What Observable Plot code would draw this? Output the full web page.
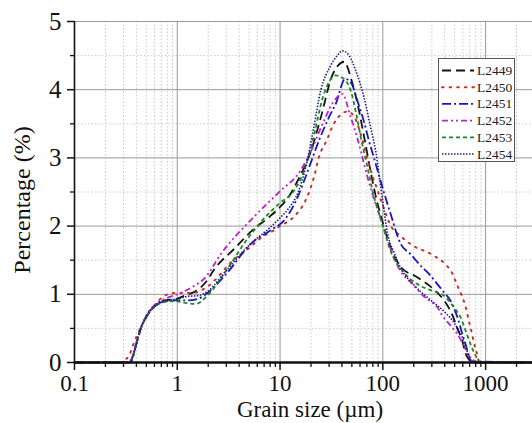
<!DOCTYPE html>
<html>
<head>
<meta charset="utf-8">
<script src="https://cdn.jsdelivr.net/npm/d3@7"></script>
<script src="https://cdn.jsdelivr.net/npm/@observablehq/plot@0.6"></script>
<style>
  html, body { margin: 0; padding: 0; background: #fff; }
  #chart { width: 532px; height: 423px; overflow: hidden; }
</style>
</head>
<body>
<div id="chart"></div>
<script>
// ---- data ----
const seriesNames = ["L2449", "L2450", "L2451", "L2452", "L2453", "L2454"];

const size2449 = [0.1, 0.34, 0.36, 0.4, 0.44, 0.51, 0.62, 0.77, 0.97, 1.17, 1.57, 1.9, 2.3, 3.6, 5.4, 7.8, 10, 12, 15, 20, 25, 32, 37, 42, 50, 57, 65, 75, 85, 100, 120, 150, 216, 314, 407, 480, 530, 593, 640, 700, 720, 2860];
const pct2449  = [0, 0, 0.05, 0.27, 0.49, 0.69, 0.84, 0.91, 0.93, 0.98, 1.06, 1.18, 1.37, 1.67, 1.94, 2.13, 2.28, 2.42, 2.68, 3.1, 3.6, 4.2, 4.36, 4.41, 4.12, 3.78, 3.35, 2.85, 2.45, 2.05, 1.67, 1.40, 1.25, 1.07, 0.88, 0.68, 0.5, 0.32, 0.13, 0.03, 0, 0];

const size2450 = [0.1, 0.29, 0.31, 0.34, 0.37, 0.41, 0.46, 0.53, 0.62, 0.75, 0.97, 1.41, 2.0, 3.5, 5, 7, 8.75, 10, 13.7, 18, 21.4, 23.9, 28.9, 32.3, 37.5, 45, 52, 58.6, 65, 75, 90, 100, 120, 150, 167, 208, 251, 326, 407, 480, 530, 579, 638, 690, 730, 767, 828, 870, 2860];
const pct2450  = [0, 0, 0.04, 0.1, 0.25, 0.41, 0.57, 0.74, 0.86, 0.98, 1.02, 1.02, 1.12, 1.5, 1.68, 1.86, 1.94, 2.0, 2.14, 2.4, 2.72, 3.01, 3.28, 3.46, 3.61, 3.68, 3.62, 3.43, 3.2, 2.85, 2.5, 2.3, 2.0, 1.85, 1.79, 1.69, 1.64, 1.55, 1.44, 1.29, 1.13, 1.0, 0.82, 0.6, 0.45, 0.3, 0.12, 0, 0];

const size2451 = [0.1, 0.35, 0.4, 0.44, 0.51, 0.62, 0.77, 0.97, 1.26, 1.57, 1.9, 3, 5.2, 8.1, 10.9, 14.8, 18, 24, 30, 35, 43, 50, 56.5, 65, 73, 82, 100, 119, 149, 186, 233, 281, 339, 393, 450, 491, 549, 593, 638, 687, 720, 2860];
const pct2451  = [0, 0, 0.27, 0.49, 0.69, 0.84, 0.9, 0.91, 0.91, 0.93, 1.0, 1.3, 1.74, 1.94, 2.08, 2.42, 2.75, 3.26, 3.6, 3.8, 4.16, 4.08, 3.84, 3.55, 3.26, 3.0, 2.55, 2.18, 1.74, 1.59, 1.42, 1.3, 1.15, 1.03, 0.92, 0.8, 0.6, 0.42, 0.27, 0.1, 0.02, 0];

const size2452 = [0.1, 0.34, 0.36, 0.4, 0.45, 0.5, 0.6, 0.8, 1.0, 1.41, 1.86, 2.65, 5.36, 9.8, 15.9, 20, 26.8, 33, 40.4, 48.6, 55, 60.8, 70, 80, 100, 120, 150, 186, 270, 303, 339, 378, 456, 530, 614, 687, 768, 800, 2860];
const pct2452  = [0, 0, 0.05, 0.3, 0.52, 0.69, 0.84, 0.95, 1.0, 1.11, 1.24, 1.59, 2.11, 2.5, 2.82, 3.1, 3.55, 3.82, 3.94, 3.6, 3.35, 3.11, 2.75, 2.45, 2.02, 1.65, 1.33, 1.18, 0.93, 0.88, 0.81, 0.69, 0.54, 0.42, 0.25, 0.1, 0.03, 0, 0];

const size2453 = [0.1, 0.34, 0.36, 0.4, 0.44, 0.51, 0.62, 0.77, 0.97, 1.13, 1.52, 1.9, 3, 4.8, 6.5, 9.8, 13.7, 17, 20, 26.8, 34.7, 40, 48.6, 55, 62, 70, 80, 100, 120, 160, 216, 292, 365, 393, 491, 571, 638, 713, 798, 850, 870, 2860];
const pct2453  = [0, 0, 0.05, 0.27, 0.49, 0.69, 0.83, 0.89, 0.9, 0.88, 0.86, 0.96, 1.35, 1.81, 2.06, 2.33, 2.52, 2.8, 3.15, 3.94, 4.21, 4.18, 3.99, 3.65, 3.25, 2.9, 2.5, 2.0, 1.62, 1.32, 1.15, 1.06, 1.01, 0.98, 0.81, 0.66, 0.47, 0.27, 0.1, 0.03, 0, 0];

const size2454 = [0.1, 0.34, 0.36, 0.4, 0.44, 0.51, 0.62, 0.77, 1.0, 1.26, 1.6, 2, 3, 5, 8, 10, 12, 15, 18, 21, 24.9, 31, 36, 40.4, 47, 54.5, 65.5, 76, 85, 100, 111, 130, 150, 200, 250, 300, 400, 500, 600, 650, 700, 750, 2860];
const pct2454  = [0, 0, 0.05, 0.28, 0.5, 0.7, 0.85, 0.91, 0.93, 0.97, 0.98, 1.05, 1.35, 1.72, 1.98, 2.12, 2.25, 2.5, 2.9, 3.4, 3.99, 4.35, 4.5, 4.57, 4.5, 4.28, 3.89, 3.45, 3.11, 2.35, 1.9, 1.6, 1.38, 1.14, 1.0, 0.9, 0.74, 0.57, 0.35, 0.2, 0.07, 0, 0];

const majorXTicks = [0.1, 1, 10, 100, 1000];
const minorXTicks = [0.2,0.3,0.4,0.5,0.6,0.7,0.8,0.9, 2,3,4,5,6,7,8,9, 20,30,40,50,60,70,80,90, 200,300,400,500,600,700,800,900, 2000];
const majorYTicks = [0, 1, 2, 3, 4, 5];
const minorYTicks = [0.5, 1.5, 2.5, 3.5, 4.5];

// ---- styles (kept apart from data) ----
const seriesStyles = [
  {stroke: "#141414", dash: "9,5",          width: 1.8},
  {stroke: "#c8312c", dash: "1.6,6",        width: 2.0},
  {stroke: "#1616c8", dash: "9,3,2,3",      width: 1.8},
  {stroke: "#c21fd0", dash: "6,3,2,3,2,3",  width: 1.8},
  {stroke: "#1d8a1d", dash: "4,3",          width: 1.8},
  {stroke: "#1c1c80", dash: "1.5,1.5",      width: 1.6}
];

const sizes = [size2449, size2450, size2451, size2452, size2453, size2454];
const pcts  = [pct2449, pct2450, pct2451, pct2452, pct2453, pct2454];
const tables = seriesNames.map((name, i) => sizes[i].map((s, j) => ({series: name, size: s, pct: pcts[i][j]})));

const W = 532, H = 423;
const serif = "'Liberation Serif', 'Times New Roman', 'DejaVu Serif', serif";

const lineMarks = tables.map((t, i) => Plot.line(t, {
  x: "size", y: "pct",
  stroke: seriesStyles[i].stroke,
  strokeWidth: seriesStyles[i].width,
  strokeDasharray: seriesStyles[i].dash,
  strokeLinecap: i === 1 ? "round" : "butt",
  curve: "monotone-x"
}));

const chart = Plot.plot({
  width: W, height: H,
  marginLeft: 74, marginRight: 0, marginTop: 21, marginBottom: 61,
  style: {fontFamily: serif, fontSize: "22px", color: "#111", background: "#fff", overflow: "hidden"},
  x: {type: "log", domain: [0.1, 2860], label: null},
  y: {domain: [0, 5], label: null},
  marks: [
    Plot.gridX(minorXTicks, {stroke: "#bdbdbd", strokeOpacity: 1, strokeDasharray: "1.5,2", strokeWidth: 0.8}),
    Plot.gridY(minorYTicks, {stroke: "#bdbdbd", strokeOpacity: 1, strokeDasharray: "1.5,2", strokeWidth: 0.8}),
    Plot.gridX(majorXTicks, {stroke: "#999", strokeOpacity: 1, strokeWidth: 1}),
    Plot.gridY(majorYTicks, {stroke: "#999", strokeOpacity: 1, strokeWidth: 1}),
    ...lineMarks,
    Plot.axisX(majorXTicks, {tickSize: 8, tickPadding: 4, tickFormat: d => String(d), strokeWidth: 1.5, fontSize: 23, fontFamily: serif}),
    Plot.axisX(minorXTicks, {tickSize: 5, tickFormat: () => "", strokeWidth: 1.3}),
    Plot.axisY(majorYTicks, {tickSize: 7, tickPadding: 6, tickFormat: d => String(d), strokeWidth: 1.5, fontSize: 25, fontFamily: serif}),
    Plot.axisY(minorYTicks, {tickSize: 4, tickFormat: () => "", strokeWidth: 1.3}),
    Plot.ruleX([0.1], {stroke: "#111", strokeWidth: 1.6}),
    Plot.ruleY([0], {stroke: "#111", strokeWidth: 2.6})
  ]
});

document.getElementById("chart").appendChild(chart);

// ---- axis titles and legend ----
const svg = d3.select(chart);
svg.append("text")
  .attr("x", 310).attr("y", 417)
  .attr("text-anchor", "middle")
  .attr("font-family", serif).attr("font-size", 23).attr("fill", "#111")
  .text("Grain size (µm)");
svg.append("text")
  .attr("transform", "translate(30,200) rotate(-90)")
  .attr("text-anchor", "middle")
  .attr("font-family", serif).attr("font-size", 24).attr("fill", "#111")
  .text("Percentage (%)");

const lg = svg.append("g").attr("text-anchor", "start");
lg.append("rect")
  .attr("x", 438.5).attr("y", 58.5).attr("width", 76).attr("height", 103)
  .attr("fill", "#fff").attr("stroke", "#555").attr("stroke-width", 1);
seriesNames.forEach((name, i) => {
  const yy = 70.5 + i * 16.7;
  lg.append("line")
    .attr("x1", 442).attr("x2", 474).attr("y1", yy).attr("y2", yy)
    .attr("stroke", seriesStyles[i].stroke)
    .attr("stroke-width", seriesStyles[i].width)
    .attr("stroke-dasharray", seriesStyles[i].dash)
    .attr("stroke-linecap", i === 1 ? "round" : "butt");
  lg.append("text")
    .attr("x", 477).attr("y", yy + 4.5)
    .attr("text-anchor", "start")
    .attr("font-family", serif).attr("font-size", 13.5).attr("fill", "#222")
    .text(name);
});
</script>
</body>
</html>
